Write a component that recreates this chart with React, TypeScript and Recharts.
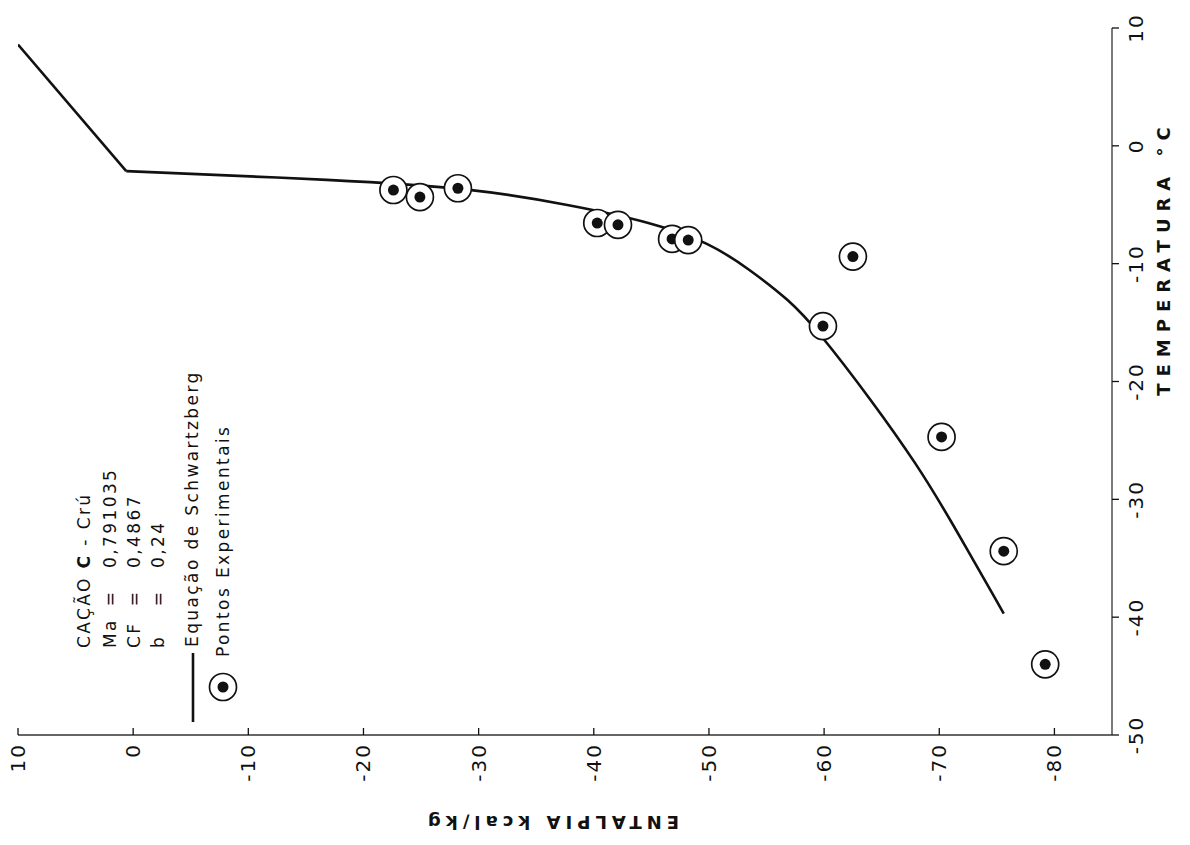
import { ComposedChart, Line, Scatter, XAxis, YAxis } from 'recharts';

const ENTHALPY_TICKS = [10, 0, -10, -20, -30, -40, -50, -60, -70, -80];
const TEMPERATURE_TICKS = [10, 0, -10, -20, -30, -40, -50];

// pontos experimentais (entalpia kcal/kg, temperatura °C)
const expEnthalpy = [-22.6, -24.9, -28.2, -40.3, -42.1, -46.8, -48.2, -62.5, -59.9, -70.2, -75.6, -79.2];
const expTemperature = [-3.75, -4.35, -3.6, -6.55, -6.7, -7.9, -8.0, -9.4, -15.3, -24.7, -34.4, -44.0];

// equação de Schwartzberg: trecho acima do ponto de congelamento (reta)
const liquidEnthalpy = [10, 0.6];
const liquidTemperature = [8.6, -2.15];

// ... e trecho abaixo (curva)
const frozenEnthalpy = [0.6, -18, -29.5, -37.9, -45.1, -50.1, -53.4, -57.0, -59.4, -64.2, -68.1, -70.9, -75.6];
const frozenTemperature = [-2.15, -2.9, -3.6, -5.0, -6.5, -8.25, -10.4, -13.1, -15.6, -21.7, -27.1, -31.6, -39.7];

const expData = expEnthalpy.map((e, i) => ({ e, t: expTemperature[i] }));
const liquidData = liquidEnthalpy.map((e, i) => ({ e, t: liquidTemperature[i] }));
const frozenData = frozenEnthalpy.map((e, i) => ({ e, t: frozenTemperature[i] }));

const FONT = '"DejaVu Sans", Arial, sans-serif';
const INK = '#111';

function EnthalpyTick(props: any) {
  const { x, y, payload } = props;
  const ty = y + 8;
  return (
    <g>
      <line x1={x} y1={y} x2={x} y2={y - 7} stroke={INK} strokeWidth={1.3} />
      <text
        x={x}
        y={ty}
        transform={`rotate(-90 ${x} ${ty})`}
        textAnchor="end"
        dominantBaseline="central"
        fontFamily={FONT}
        fontSize={20}
        letterSpacing={2}
        fill={INK}
      >
        {payload.value}
      </text>
    </g>
  );
}

function TemperatureTick(props: any) {
  const { x, y, payload } = props;
  const tx = x + 24;
  return (
    <g>
      <line x1={x} y1={y} x2={x + 7} y2={y} stroke={INK} strokeWidth={1.3} />
      <text
        x={tx}
        y={y}
        transform={`rotate(-90 ${tx} ${y})`}
        textAnchor="middle"
        dominantBaseline="central"
        fontFamily={FONT}
        fontSize={20}
        letterSpacing={2}
        fill={INK}
      >
        {payload.value}
      </text>
    </g>
  );
}

function PointMark({ cx, cy }: { cx?: number; cy?: number }) {
  if (cx == null || cy == null) return null;
  return (
    <g>
      <circle cx={cx} cy={cy} r={13.5} fill="#fff" stroke={INK} strokeWidth={1.7} />
      <circle cx={cx} cy={cy} r={5.5} fill={INK} />
    </g>
  );
}

// legend texts read bottom-to-top, like the rest of the rotated sheet
function VText({ x, y, children, bold, size = 17, spacing = 2.4, anchor = 'start' }: any) {
  return (
    <text
      x={x}
      y={y}
      transform={`rotate(-90 ${x} ${y})`}
      textAnchor={anchor}
      dominantBaseline="central"
      fontFamily={FONT}
      fontSize={size}
      fontWeight={bold ? 'bold' : 'normal'}
      letterSpacing={spacing}
      fill={INK}
    >
      {children}
    </text>
  );
}

function Overlay() {
  return (
    <svg
      width={1190}
      height={845}
      style={{ position: 'absolute', left: 0, top: 0, pointerEvents: 'none' }}
    >
      <VText x={84} y={648}>
        CAÇÃO{'   '}
        <tspan fontWeight="bold">C</tspan>
        {' - Crú'}
      </VText>
      <VText x={110} y={648}>Ma</VText>
      <VText x={110} y={598} anchor="middle">=</VText>
      <VText x={110} y={568}>0,791035</VText>
      <VText x={134} y={648}>CF</VText>
      <VText x={134} y={598} anchor="middle">=</VText>
      <VText x={134} y={568}>0,4867</VText>
      <VText x={158} y={648}>b</VText>
      <VText x={158} y={598} anchor="middle">=</VText>
      <VText x={158} y={568}>0,24</VText>

      <line x1={193} y1={653} x2={193} y2={722} stroke={INK} strokeWidth={2.6} />
      <VText x={192} y={647}>Equação de Schwartzberg</VText>
      <PointMark cx={223} cy={687} />
      <VText x={223} y={657}>Pontos Experimentais</VText>

      <VText x={1163} y={258} anchor="middle" bold size={18} spacing={7}>
        TEMPERATURA °C
      </VText>
      <text
        x={551}
        y={822}
        transform="rotate(180 551 822)"
        textAnchor="middle"
        dominantBaseline="central"
        fontFamily={FONT}
        fontSize={18}
        fontWeight="bold"
        letterSpacing={5}
        fill={INK}
      >
        ENTALPIA kcal/kg
      </text>
    </svg>
  );
}

export default function App() {
  return (
    <div style={{ position: 'absolute', left: 0, top: 0, width: 1190, height: 845, background: '#fff' }}>
      <ComposedChart width={1190} height={845} margin={{ top: 28, right: 18, bottom: 50, left: 18 }}>
        <XAxis
          type="number"
          dataKey="e"
          domain={[-85, 10]}
          reversed
          allowDataOverflow
          ticks={ENTHALPY_TICKS}
          interval={0}
          height={60}
          tickSize={0}
          tickMargin={0}
          tickLine={false}
          tick={<EnthalpyTick />}
          axisLine={{ stroke: '#333', strokeWidth: 1.3 }}
        />
        <YAxis
          type="number"
          dataKey="t"
          orientation="right"
          domain={[-50, 10]}
          allowDataOverflow
          ticks={TEMPERATURE_TICKS}
          interval={0}
          width={60}
          tickSize={0}
          tickMargin={0}
          tickLine={false}
          tick={<TemperatureTick />}
          axisLine={{ stroke: '#333', strokeWidth: 1.3 }}
        />
        <Line
          data={liquidData}
          dataKey="t"
          type="linear"
          stroke={INK}
          strokeWidth={2.6}
          dot={false}
          activeDot={false}
          isAnimationActive={false}
        />
        <Line
          data={frozenData}
          dataKey="t"
          type="basis"
          stroke={INK}
          strokeWidth={2.6}
          dot={false}
          activeDot={false}
          isAnimationActive={false}
        />
        <Scatter data={expData} dataKey="t" shape={<PointMark />} isAnimationActive={false} />
      </ComposedChart>
      <Overlay />
    </div>
  );
}
